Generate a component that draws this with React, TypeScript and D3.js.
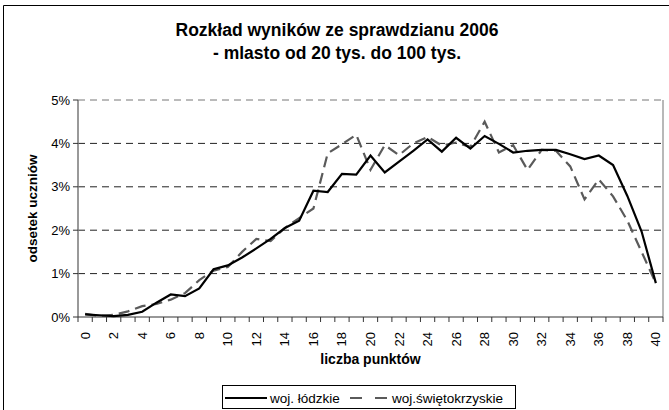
import React from "react";
import * as d3 from "d3";

const categories: number[] = d3.range(0, 41);
const lodzkie: number[] = [
  0.06, 0.04, 0.02, 0.05, 0.12, 0.33, 0.52, 0.48, 0.66, 1.1,
  1.19, 1.37, 1.58, 1.8, 2.05, 2.22, 2.91, 2.88, 3.3, 3.28,
  3.72, 3.33, 3.58, 3.83, 4.09, 3.81, 4.13, 3.88, 4.17, 3.99,
  3.79, 3.83, 3.85, 3.85, 3.75, 3.64, 3.72, 3.5, 2.79, 1.97, 0.78,
];
const swietokrzyskie: number[] = [
  0.07, 0.02, 0.05, 0.13, 0.25, 0.3, 0.4, 0.55, 0.85, 1.07,
  1.15, 1.5, 1.8, 1.75, 2.05, 2.28, 2.5, 3.77, 3.98, 4.2,
  3.39, 3.96, 3.73, 4.0, 4.15, 3.95, 4.02, 3.92, 4.5, 3.79,
  3.96, 3.39, 3.85, 3.83, 3.47, 2.71, 3.17, 2.78, 2.22, 1.5, 0.78,
];
const yTicks: number[] = [0, 1, 2, 3, 4, 5];
const xLabelCats: number[] = d3.range(0, 41, 2);
const seriesNames: string[] = ["woj. łódzkie", "woj.świętokrzyskie"];
const titleLines: string[] = ["Rozkład wyników ze sprawdzianu 2006", "- mlasto od 20 tys. do 100 tys."];

const W = 669;
const H = 410;
const L = 78;
const R = 663;
const T = 100;
const B = 317;
const FONT = "'Liberation Sans', Arial, sans-serif";

export default function App() {
  const x = d3.scaleBand<number>().domain(categories).range([L, R]).padding(0);
  const bw = x.bandwidth();
  const cx = (i: number) => (x(i) as number) + bw / 2;
  const y = d3.scaleLinear().domain([0, 5]).range([B, T]);
  const line = d3
    .line<number>()
    .x((_, i) => cx(categories[i]))
    .y((d) => y(d));

  const boundaries = d3.range(0, categories.length + 1).map((k) => L + k * bw);

  return (
    <svg
      width={W}
      height={H}
      style={{ position: "absolute", left: 0, top: 0, background: "#fff" }}
      fontFamily={FONT}
    >
      <rect x={0} y={0} width={W} height={H} fill="#fff" />
      {/* outer chart border (left + top visible) */}
      <path d={`M3.5,${H + 2} V5.5 H${W + 2}`} fill="none" stroke="#000" strokeWidth={1} />

      {/* title */}
      {titleLines.map((t, i) => (
        <text
          key={i}
          x={337}
          y={36 + i * 22.5}
          textAnchor="middle"
          fontSize={17.5}
          fontWeight="bold"
          fill="#000"
        >
          {t}
        </text>
      ))}

      {/* gridlines */}
      {yTicks
        .filter((t) => t > 0)
        .map((t) => (
          <line
            key={t}
            x1={L}
            x2={R}
            y1={y(t)}
            y2={y(t)}
            stroke={t === 5 ? "#777" : "#222"}
            strokeWidth={1}
            strokeDasharray="7,5"
          />
        ))}

      {/* right plot border */}
      <line x1={R} x2={R} y1={T} y2={B} stroke="#a0a0a0" strokeWidth={1.5} />

      {/* y axis */}
      <line x1={L} x2={L} y1={T} y2={B} stroke="#777" strokeWidth={1.5} />
      {yTicks.map((t) => (
        <g key={t}>
          <line x1={L - 5} x2={L} y1={y(t)} y2={y(t)} stroke="#333" strokeWidth={1} />
          <text x={L - 8} y={y(t)} dy="0.35em" textAnchor="end" fontSize={13} fill="#000">
            {t}%
          </text>
        </g>
      ))}

      {/* x axis */}
      <line x1={L} x2={R} y1={B} y2={B} stroke="#333" strokeWidth={1.2} />
      {boundaries.map((bx, k) => (
        <line key={k} x1={bx} x2={bx} y1={B} y2={B + 5} stroke="#333" strokeWidth={1} />
      ))}
      {xLabelCats.map((c) => (
        <text
          key={c}
          transform={`translate(${cx(c) + 4.5},${B + 15}) rotate(-90)`}
          textAnchor="end"
          fontSize={13}
          fill="#000"
        >
          {c}
        </text>
      ))}

      {/* axis titles */}
      <text
        transform={`translate(37,${(T + B) / 2}) rotate(-90)`}
        textAnchor="middle"
        fontSize={13.5}
        fontWeight="bold"
        fill="#000"
      >
        odsetek uczniów
      </text>
      <text x={(L + R) / 2} y={364} textAnchor="middle" fontSize={14} fontWeight="bold" fill="#000">
        liczba punktów
      </text>

      {/* series */}
      <path
        d={line(swietokrzyskie) ?? ""}
        fill="none"
        stroke="#5a5a5a"
        strokeWidth={2.2}
        strokeDasharray="11,6"
      />
      <path d={line(lodzkie) ?? ""} fill="none" stroke="#000" strokeWidth={2.2} strokeLinejoin="miter" />

      {/* legend */}
      <rect x={222.5} y={385.5} width={293} height={23} fill="#fff" stroke="#000" strokeWidth={1} />
      <line x1={225} x2={267} y1={398} y2={398} stroke="#000" strokeWidth={2.2} />
      <text x={270} y={402.5} fontSize={13.5} fill="#000">
        {seriesNames[0]}
      </text>
      <line
        x1={350}
        x2={390}
        y1={398}
        y2={398}
        stroke="#5a5a5a"
        strokeWidth={2.2}
        strokeDasharray="12,13"
      />
      <text x={392} y={402.5} fontSize={13.5} fill="#000">
        {seriesNames[1]}
      </text>
    </svg>
  );
}
